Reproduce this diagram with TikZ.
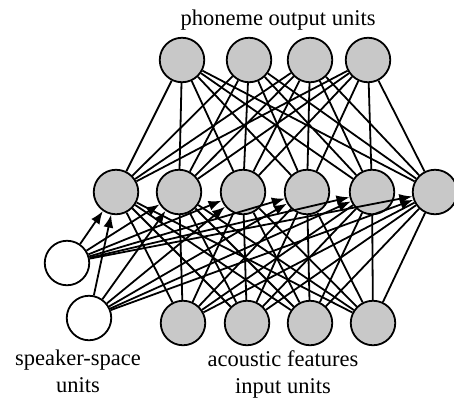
\documentclass[tikz,border=0pt]{standalone}
\usepackage{fontspec}
\setmainfont{Liberation Serif}
\usetikzlibrary{arrows.meta}
\definecolor{unitgray}{RGB}{200,200,200}
\tikzset{
  unit/.style={circle,draw,line width=1.8pt,minimum size=44.5pt,inner sep=0pt,fill=unitgray},
  spk/.style={unit,fill=white},
  lbl/.style={font=\fontsize{22.5}{27}\selectfont,align=center,inner sep=0pt},
}
\begin{document}
\begin{tikzpicture}[x=1pt,y=-1pt,line width=1.8pt]
      \useasboundingbox (0,0) rectangle (454,397);
      \draw
        (182,60) node[unit] (o1){}
        (249,60) node[unit] (o2){}
        (310,60) node[unit] (o3){}
        (368,60) node[unit] (o4){}
        (116,192) node[unit] (h1){}
        (179,192) node[unit] (h2){}
        (243,192) node[unit] (h3){}
        (307,192) node[unit] (h4){}
        (372,192) node[unit] (h5){}
        (435,192) node[unit] (h6){}
        (183,323) node[unit] (i1){}
        (247,323) node[unit] (i2){}
        (310,323) node[unit] (i3){}
        (373,323) node[unit] (i4){}
        (67,263) node[spk] (s1){}
        (89,318) node[spk] (s2){};
      \node[lbl] (outlbl) at (278,20) {phoneme output units};
      \node[lbl] (spklbl) at (78,371) {speaker-space\\units};
      \node[lbl] (inlbl) at (283,374) {acoustic features\\input units};
      \begin{scope}[-]
        \foreach \o in {1,...,4}
          \foreach \h in {1,...,6}
            \draw (o\o) to (h\h);
        \foreach \i in {1,...,4}
          \foreach \h in {1,...,6}
            \draw (i\i) to (h\h);
      \end{scope}
      \begin{scope}[-{Latex[length=13pt,width=10pt]}]
        \foreach \s in {1,2}
          \foreach \h in {1,...,6}
            \draw (s\s) to (h\h);
      \end{scope}
    \end{tikzpicture}
\end{document}
